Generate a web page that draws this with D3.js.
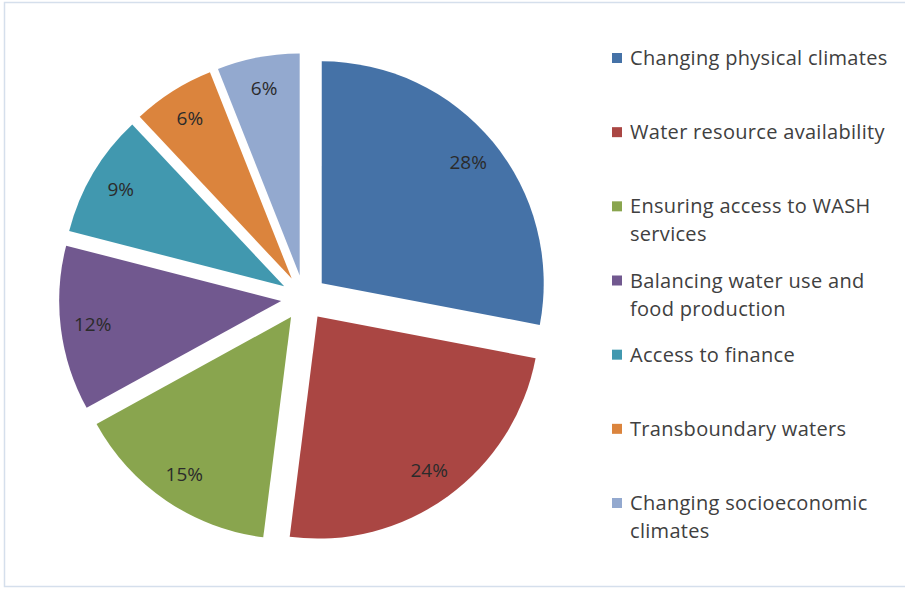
<!DOCTYPE html>
<html>
<head>
<meta charset="utf-8">
<script src="https://cdn.jsdelivr.net/npm/d3@7"></script>
<style>
  body { margin: 0; background: #fff; }
  text { font-family: "Open Sans", sans-serif; }
</style>
</head>
<body>
<svg width="905" height="589"></svg>
<script>
// chart data
var categories = ["Changing physical climates", "Water resource availability",
    "Ensuring access to WASH services", "Balancing water use and food production",
    "Access to finance", "Transboundary waters", "Changing socioeconomic climates"];
var values = [28, 24, 15, 12, 9, 6, 6];
// legend lines (wrapped like the original)
var legendLines = [["Changing physical climates"], ["Water resource availability"],
    ["Ensuring access to WASH", "services"], ["Balancing water use and", "food production"],
    ["Access to finance"], ["Transboundary waters"], ["Changing socioeconomic", "climates"]];
var colors = ["#4572A7", "#AA4643", "#89A54E", "#71588F", "#4198AF", "#DB843D", "#93A9CF"];

var width = 905, height = 589;
var cx = 304, cy = 298, radius = 222, explode = 23;

var svg = d3.select("svg");

// frame
svg.append("rect")
    .attr("x", 4.5).attr("y", 2.5)
    .attr("width", 910).attr("height", 584)
    .attr("fill", "none")
    .attr("stroke", "#D5DFEC")
    .attr("stroke-width", 1.5);

var pie = d3.pie().sort(null).value(function(d){ return d; });
var arcs = pie(values);

var arc = d3.arc().innerRadius(0).outerRadius(radius);
var labelArc = d3.arc().innerRadius(190).outerRadius(190);

var g = svg.append("g").attr("transform", "translate(" + cx + "," + cy + ")");

var slices = g.selectAll("g.slice")
    .data(arcs)
    .enter()
    .append("g")
    .attr("class", "slice")
    .attr("transform", function(d) {
        var mid = (d.startAngle + d.endAngle) / 2;
        return "translate(" + (Math.sin(mid) * explode) + "," + (-Math.cos(mid) * explode) + ")";
    });

slices.append("path")
    .attr("d", arc)
    .attr("fill", function(d, i){ return colors[i]; });

slices.append("text")
    .attr("transform", function(d){ return "translate(" + labelArc.centroid(d) + ")"; })
    .attr("text-anchor", "middle")
    .attr("dy", "0.35em")
    .attr("font-size", 19)
    .attr("fill", "#2b2b2b")
    .text(function(d){ return d.value + "%"; });

// legend
var legendY = d3.scalePoint().domain(d3.range(categories.length)).range([58, 503]);

var legend = svg.selectAll("g.legend")
    .data(legendLines)
    .enter()
    .append("g")
    .attr("class", "legend")
    .attr("transform", function(d, i){ return "translate(612," + legendY(i) + ")"; });

legend.append("rect")
    .attr("x", 0).attr("y", -5)
    .attr("width", 10).attr("height", 10)
    .attr("fill", function(d, i){ return colors[i]; });

legend.each(function(lines) {
    var t = d3.select(this).append("text")
        .attr("x", 18)
        .attr("font-size", 20)
        .attr("letter-spacing", 0.3)
        .attr("fill", "#404040");
    lines.forEach(function(line, j) {
        t.append("tspan")
            .attr("x", 18)
            .attr("y", j * 28)
            .attr("dy", "0.35em")
            .text(line);
    });
});
</script>
</body>
</html>
